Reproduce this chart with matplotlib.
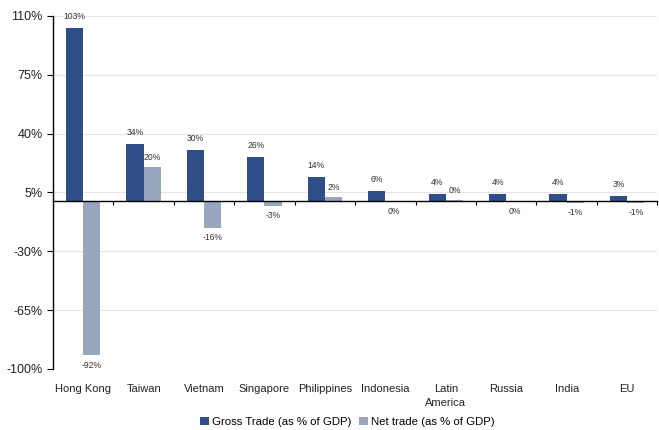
import numpy as np
import matplotlib

matplotlib.use("Agg")
import matplotlib.pyplot as plt
from matplotlib.ticker import FixedLocator


categories = ["Hong Kong", "Taiwan", "Vietnam", "Singapore", "Philippines",
              "Indonesia", "Latin\nAmerica", "Russia", "India", "EU"]
gross_trade = [103, 34, 30, 26, 14, 6, 4, 4, 4, 3]
net_trade = [-92, 20, -16, -3, 2, -0.3, 0.3, -0.3, -1, -1]
y_ticks = [-100, -65, -30, 5, 40, 75, 110]

GROSS_COLOR = "#2F4E88"
NET_COLOR = "#98A6BE"


def pct(v):
    r = int(round(v))
    return f"{r}%"


def main():
    plt.rcParams["font.family"] = ["Liberation Sans", "DejaVu Sans"]

    fig = plt.figure(figsize=(6.59, 4.30), dpi=100)
    ax = fig.add_axes([0.0804, 0.142, 0.917, 0.821])

    x = np.arange(len(categories))
    w = 0.285
    ax.bar(x - w / 2, gross_trade, w, color=GROSS_COLOR, label="Gross Trade (as % of GDP)", zorder=2)
    ax.bar(x + w / 2, net_trade, w, color=NET_COLOR, label="Net trade (as % of GDP)", zorder=2)

    for xi, g, n in zip(x, gross_trade, net_trade):
        ax.annotate(pct(g), (xi - w / 2, g), xytext=(0, 5), textcoords="offset points",
                    ha="center", va="bottom", fontsize=6.2, color="#333333")
        if n > 0:
            ax.annotate(pct(n), (xi + w / 2, n), xytext=(0, 4), textcoords="offset points",
                        ha="center", va="bottom", fontsize=6.2, color="#333333")
        else:
            ax.annotate(pct(n), (xi + w / 2, n), xytext=(0, -4), textcoords="offset points",
                        ha="center", va="top", fontsize=6.2, color="#333333")

    ax.set_xlim(-0.5, len(categories) - 0.5)
    ax.set_ylim(-100, 110)
    ax.set_yticks(y_ticks)
    ax.set_yticklabels([f"{t}%" for t in y_ticks], fontsize=9, color="#222222")
    ax.grid(axis="y", color="#E4E4E4", linewidth=0.8, zorder=0)

    # zero line carries the category boundary ticks
    ax.spines["bottom"].set_position(("data", 0))
    ax.spines["bottom"].set_zorder(3)
    ax.xaxis.set_major_locator(FixedLocator(np.arange(0.5, len(categories), 1.0).tolist()))
    ax.tick_params(axis="x", direction="out", length=3, labelbottom=False, width=0.8)
    ax.tick_params(axis="y", direction="out", length=4, width=0.8)
    for side in ("top", "right"):
        ax.spines[side].set_visible(False)
    ax.spines["left"].set_linewidth(1.0)
    ax.spines["bottom"].set_linewidth(1.0)

    sec = ax.secondary_xaxis(0)
    sec.set_xticks(x)
    sec.set_xticklabels(categories, fontsize=8, color="#222222", linespacing=1.5)
    sec.tick_params(length=0, pad=11)
    sec.spines["bottom"].set_visible(False)

    fig.legend(loc="center", bbox_to_anchor=(0.527, 0.019), ncol=2, frameon=False,
               fontsize=8.2, handlelength=0.8, handleheight=0.8, handletextpad=0.3,
               columnspacing=0.6, borderpad=0)

    fig.savefig("out.png", dpi=100)
    plt.close(fig)


if __name__ == "__main__":
    main()
